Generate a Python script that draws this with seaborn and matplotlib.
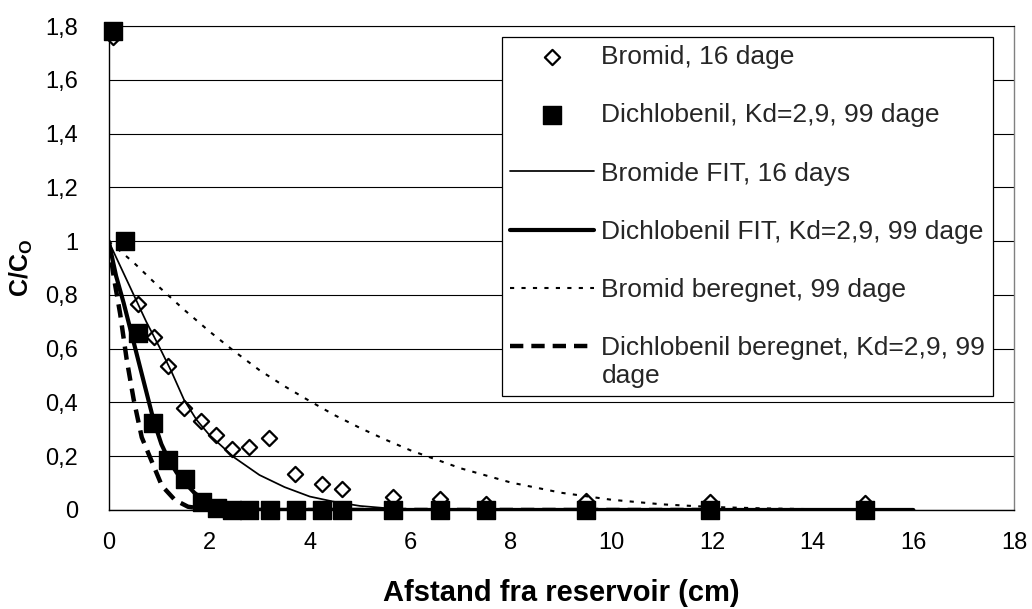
import matplotlib
matplotlib.use("Agg")
import matplotlib.pyplot as plt
import seaborn as sns

# ---------------- data ----------------
bromid_x = [0.08, 0.59, 0.90, 1.19, 1.50, 1.83, 2.14, 2.45, 2.79, 3.19, 3.71, 4.24, 4.64, 5.65, 6.58, 7.50, 9.50, 11.96, 15.04]
bromid_y = [1.76, 0.765, 0.645, 0.537, 0.380, 0.332, 0.279, 0.226, 0.235, 0.266, 0.134, 0.095, 0.077, 0.050, 0.042, 0.022, 0.035, 0.030, 0.025]

dichl_x = [0.08, 0.33, 0.59, 0.89, 1.19, 1.52, 1.85, 2.15, 2.45, 2.79, 3.20, 3.72, 4.25, 4.64, 5.65, 6.58, 7.50, 9.50, 11.96, 15.04]
dichl_y = [1.78, 1.00, 0.66, 0.325, 0.186, 0.114, 0.031, 0.006, 0.0, 0.0, 0.0, 0.0, 0.0, 0.0, 0.0, 0.0, 0.0, 0.0, 0.0, 0.0]

brfit_x = [0, 0.25, 0.5, 0.75, 1.0, 1.25, 1.5, 1.75, 2.0, 2.5, 3.0, 3.5, 4.0, 4.5, 5.0, 5.5, 6.0, 7.0, 8.0, 10.0, 12.0, 14.0, 16.0]
brfit_y = [1.0, 0.90, 0.80, 0.70, 0.61, 0.515, 0.41, 0.335, 0.28, 0.195, 0.13, 0.085, 0.05, 0.03, 0.015, 0.007, 0.003, 0.001, 0.0, 0.0, 0.0, 0.0, 0.0]

dfit_x = [0, 0.15, 0.3, 0.45, 0.6, 0.75, 0.9, 1.05, 1.2, 1.35, 1.5, 1.7, 1.9, 2.2, 2.6, 3.0, 4.0, 6.0, 8.0, 10.0, 12.0, 14.0, 16.0]
dfit_y = [1.0, 0.87, 0.77, 0.66, 0.55, 0.44, 0.33, 0.245, 0.185, 0.14, 0.105, 0.065, 0.035, 0.012, 0.003, 0.001, 0.0, 0.0, 0.0, 0.0, 0.0, 0.0, 0.0]

brber_x = [0, 0.5, 1, 1.5, 2, 2.5, 3, 3.5, 4, 4.5, 5, 5.5, 6, 7, 8, 9, 10, 11, 12, 13, 14, 15, 16]
brber_y = [1.0, 0.92, 0.83, 0.745, 0.665, 0.59, 0.52, 0.46, 0.405, 0.352, 0.305, 0.262, 0.222, 0.155, 0.102, 0.064, 0.038, 0.021, 0.011, 0.006, 0.003, 0.001, 0.0]

dber_x = [0, 0.1, 0.23, 0.36, 0.5, 0.66, 0.86, 1.06, 1.32, 1.58, 1.9, 2.3, 3.0, 4.0, 6.0, 8.0, 10.0, 12.0]
dber_y = [1.0, 0.87, 0.73, 0.56, 0.41, 0.27, 0.18, 0.09, 0.037, 0.012, 0.004, 0.001, 0.0, 0.0, 0.0, 0.0, 0.0, 0.0]

labels = ["Bromid, 16 dage",
          "Dichlobenil, Kd=2,9, 99 dage",
          "Bromide FIT, 16 days",
          "Dichlobenil FIT, Kd=2,9, 99 dage",
          "Bromid beregnet, 99 dage",
          "Dichlobenil beregnet, Kd=2,9, 99\ndage"]

x_ticks = [0, 2, 4, 6, 8, 10, 12, 14, 16, 18]
y_ticks = [0, 0.2, 0.4, 0.6, 0.8, 1.0, 1.2, 1.4, 1.6, 1.8]
y_ticklabels = ["0", "0,2", "0,4", "0,6", "0,8", "1", "1,2", "1,4", "1,6", "1,8"]
x_label = "Afstand fra reservoir (cm)"
y_label = r"$\mathbf{C/C}_{\mathbf{O}}$"

# ---------------- style ----------------
sns.set_theme(style="white")
plt.rcParams["font.family"] = ["Liberation Sans", "DejaVu Sans"]
plt.rcParams["mathtext.fontset"] = "custom"
plt.rcParams["mathtext.rm"] = "Liberation Sans"
plt.rcParams["mathtext.bf"] = "Liberation Sans:bold"

fig = plt.figure(figsize=(10.32, 6.09), dpi=100)
ax = fig.add_axes([0.1052, 0.1626, 0.8773, 0.7947])

# markers
sns.scatterplot(x=bromid_x, y=bromid_y, ax=ax, marker="D", s=60,
                facecolor="white", edgecolor="black", linewidth=1.6,
                label=labels[0], zorder=2.5, clip_on=False)
h_br = ax.collections[-1]

sns.lineplot(x=brfit_x, y=brfit_y, ax=ax, color="black", lw=1.25,
             label=labels[2], zorder=3)
l_brfit = ax.lines[-1]
sns.lineplot(x=dfit_x, y=dfit_y, ax=ax, color="black", lw=3.0,
             label=labels[3], zorder=3)
l_dfit = ax.lines[-1]
sns.lineplot(x=brber_x, y=brber_y, ax=ax, color="black", lw=1.5,
             linestyle=(0, (2, 3.5)), label=labels[4], zorder=3)
l_brber = ax.lines[-1]
sns.lineplot(x=dber_x, y=dber_y, ax=ax, color="black", lw=3.2,
             linestyle=(0, (3, 1.8)), label=labels[5], zorder=3)
l_dber = ax.lines[-1]

sns.scatterplot(x=dichl_x, y=dichl_y, ax=ax, marker="s", s=150,
                facecolor="black", edgecolor="black", linewidth=1,
                label=labels[1], zorder=4, clip_on=False)
h_dc = ax.collections[-1]

# axes
ax.set_xlim(0, 18)
ax.set_ylim(0, 1.8)
ax.set_xticks(x_ticks)
ax.set_xticklabels([str(v) for v in x_ticks])
ax.set_yticks(y_ticks)
ax.set_yticklabels(y_ticklabels)
ax.tick_params(axis="both", direction="out", length=6, width=1, color="black",
               labelsize=17, labelcolor="black")
ax.tick_params(axis="y", pad=16)
ax.tick_params(axis="x", pad=10)
ax.yaxis.grid(True, color="black", lw=0.8)
ax.xaxis.grid(False)
ax.set_axisbelow(True)
for side in ["left", "bottom"]:
    ax.spines[side].set_color("black")
    ax.spines[side].set_linewidth(1.0)
ax.spines["top"].set_color("black")
ax.spines["top"].set_linewidth(0.8)
ax.spines["right"].set_color("#808080")
ax.spines["right"].set_linewidth(1.0)

ax.set_xlabel(x_label, fontsize=21, fontweight="bold", color="black")
ax.xaxis.set_label_coords(0.5, -0.142)
ax.set_ylabel(y_label, fontsize=18, color="black")
ax.yaxis.set_label_coords(-0.081, 0.50)

leg = ax.legend(handles=[h_br, h_dc, l_brfit, l_dfit, l_brber, l_dber],
                labels=labels, loc="upper left", bbox_to_anchor=(0.4345, 0.9773),
                borderaxespad=0, frameon=True, fancybox=False, shadow=False,
                edgecolor="black", facecolor="white", framealpha=1,
                fontsize=19, handlelength=3.2, handletextpad=0.27,
                labelspacing=1.3, borderpad=0.3, scatterpoints=1)
leg.get_frame().set_linewidth(0.9)
leg.set_zorder(10)

# align the handle of the wrapped last entry with its first text line
try:
    for col in leg._legend_handle_box.get_children():
        entries = col.get_children()
        if entries:
            entries[-1].align = "top"
except Exception:
    pass

fig.savefig("out.png", dpi=100)
